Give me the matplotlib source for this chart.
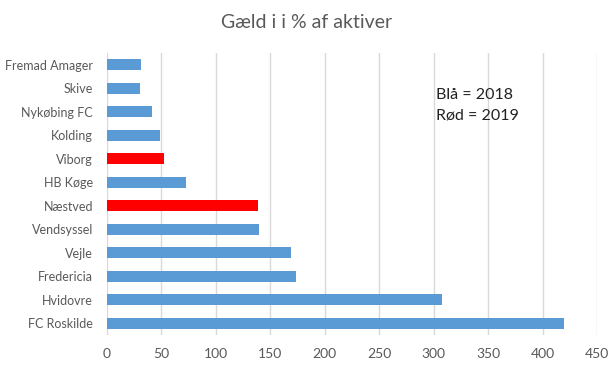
import matplotlib
matplotlib.use("Agg")
import matplotlib.pyplot as plt

clubs = ["Fremad Amager", "Skive", "Nykøbing FC", "Kolding", "Viborg", "HB Køge",
         "Næstved", "Vendsyssel", "Vejle", "Fredericia", "Hvidovre", "FC Roskilde"]
values = [31, 30, 41, 49, 52, 73, 139, 140, 169, 174, 308, 420]
years = [2018, 2018, 2018, 2018, 2019, 2018, 2019, 2018, 2018, 2018, 2018, 2018]
year_colors = {2018: "#5B9BD5", 2019: "#FF0000"}
xticks = [0, 50, 100, 150, 200, 250, 300, 350, 400, 450]
title = "Gæld i i % af aktiver"
note = "Blå = 2018\nRød = 2019"

plt.rcParams['font.family'] = ['Lato', 'DejaVu Sans']
fig = plt.figure(figsize=(6.16, 3.69), dpi=100)
ax = fig.add_axes([107/616, 1-335/369, (597-107)/616, (335-53)/369])

ypos = list(range(len(clubs)))
ax.barh(ypos, values, height=0.45, color=[year_colors[y] for y in years], zorder=3)
ax.set_yticks(ypos)
ax.set_yticklabels(clubs)
ax.set_ylim(len(clubs) - 0.5, -0.5)
ax.set_xlim(0, 450)
ax.set_xticks(xticks)
ax.grid(axis='x', color='#D9D9D9', linewidth=1, zorder=0)
for s in ax.spines.values():
    s.set_visible(False)
ax.tick_params(axis='both', length=0, colors='#595959')
ax.tick_params(axis='y', pad=10, labelsize=9)
ax.tick_params(axis='x', pad=9, labelsize=10)

fig.text(307/616, 1-22/369, title, ha='center', va='center', fontsize=14, color='#595959')
ax.text(0.672, 0.875, note, transform=ax.transAxes, ha='left', va='top',
        fontsize=11.5, color='#222222', linespacing=1.6)

fig.savefig("out.png", dpi=100)
